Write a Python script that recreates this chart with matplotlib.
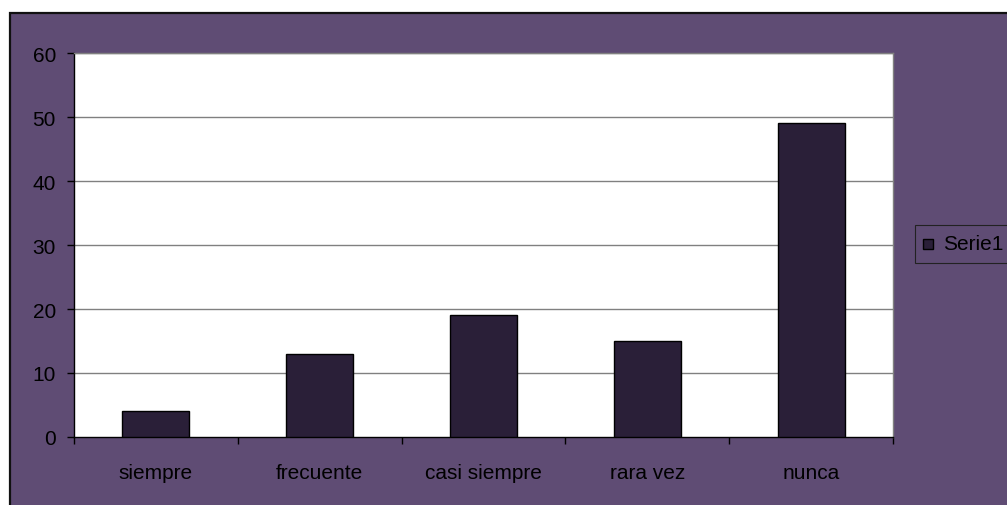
import matplotlib
matplotlib.use("Agg")
import matplotlib.pyplot as plt
from matplotlib.patches import Rectangle
import numpy as np

categories = ["siempre", "frecuente", "casi siempre", "rara vez", "nunca"]
values = [4, 13, 19, 15, 49]
series_name = "Serie1"
yticks = [0, 10, 20, 30, 40, 50, 60]

plt.rcParams['font.family'] = ['Liberation Sans', 'DejaVu Sans']

W, H = 1007, 506
fig = plt.figure(figsize=(W/100, H/100), dpi=100)
fig.patch.set_facecolor("white")

purple = "#5F4C74"
bar_color = "#2A1F38"
FS = 15

# outer chart area (behind the plot)
bg = fig.add_axes([0, 0, 1, 1], zorder=-10)
bg.set_xlim(0, W)
bg.set_ylim(H, 0)
bg.axis("off")
bg.add_patch(Rectangle((10, 14), W + 20, H + 20, facecolor=purple,
                       edgecolor="#111111", linewidth=1.6))
# legend box
bg.add_patch(Rectangle((915, 226), 100, 38, facecolor=purple, edgecolor="#222222", linewidth=0.8))
bg.add_patch(Rectangle((923, 240), 10, 10, facecolor=bar_color, edgecolor="black", linewidth=1))
bg.text(943, 245, series_name, fontsize=FS, va="center", ha="left", color="black")

ax = fig.add_axes([74/W, 1-438/H, (893-74)/W, (438-54)/H])
ax.set_facecolor("white")
x = np.arange(len(categories))
ax.bar(x, values, width=0.41, color=bar_color, edgecolor="black", linewidth=1.0, zorder=3)
ax.set_xlim(-0.5, len(categories)-0.5)
ax.set_ylim(0, 60)
ax.set_yticks(yticks)
ax.set_yticklabels([str(t) for t in yticks], fontsize=FS, color="black")
ax.set_xticks(x)
ax.set_xticklabels(categories, fontsize=FS, color="black")
ax.tick_params(axis="x", length=0, pad=19)
ax.set_xticks(np.arange(-0.5, len(categories)), minor=True)
ax.tick_params(axis="x", which="minor", length=5, width=1, color="black", direction="out")
ax.tick_params(axis="y", length=5, width=1, color="black", direction="out", pad=8)
for t in yticks[1:]:
    ax.axhline(t, color="#808080", linewidth=1, zorder=1)
ax.spines["left"].set_color("black")
ax.spines["bottom"].set_color("black")
ax.spines["top"].set_color("#808080")
ax.spines["right"].set_color("#808080")
for s in ax.spines.values():
    s.set_linewidth(1)

fig.savefig("out.png", dpi=100)
